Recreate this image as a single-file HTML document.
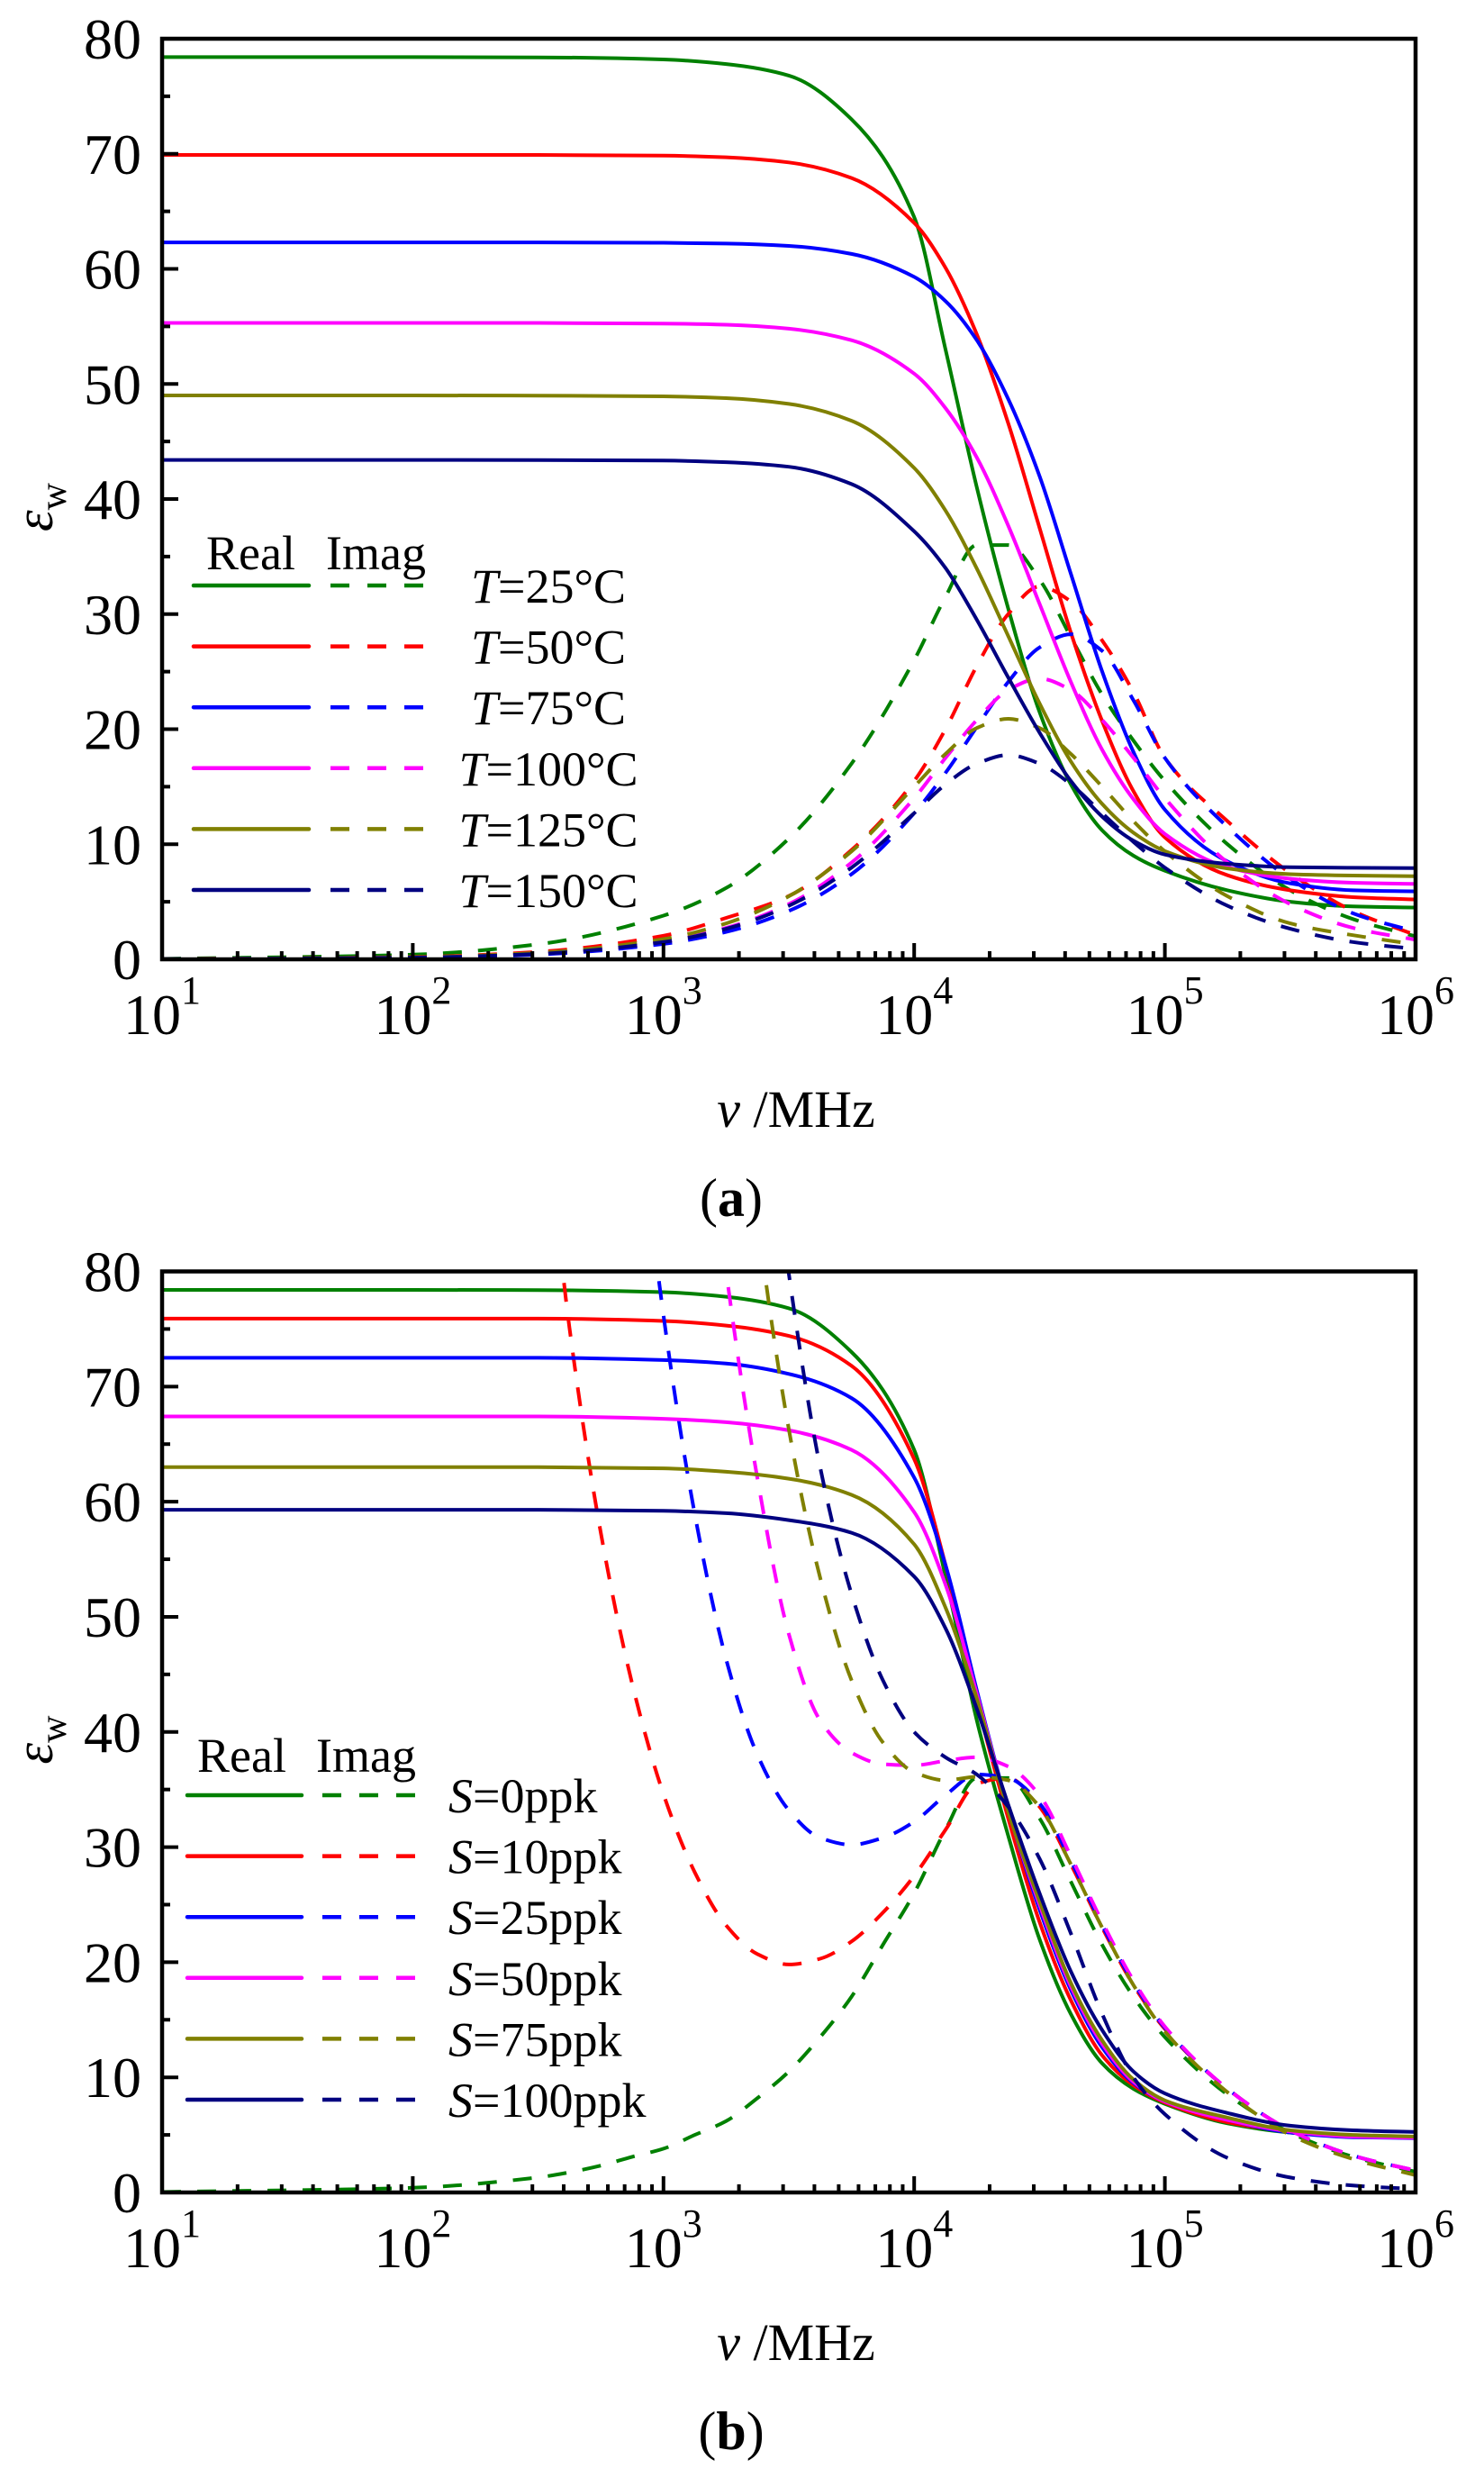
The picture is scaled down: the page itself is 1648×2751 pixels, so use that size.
<!DOCTYPE html>
<html><head><meta charset="utf-8"><style>
html,body{margin:0;padding:0;background:#fff;}
svg{display:block;font-family:"Liberation Serif","DejaVu Serif",serif;}
</style></head>
<body>
<svg id="fig" width="1648" height="2751" viewBox="0 0 1648 2751" xmlns="http://www.w3.org/2000/svg">
<defs>
<clipPath id="clipA"><rect x="180" y="43" width="1392" height="1022"/></clipPath>
<clipPath id="clipB"><rect x="180" y="1411.5" width="1392" height="1022.5"/></clipPath>
</defs>
<g id="panelA"></g>
<g id="panelB"></g>
</svg>
<script>
// ---------- data (log10 frequency in MHz, permittivity values) ----------
const freqLogA = [1,2,2.5,3,3.25,3.5,3.75,4,4.125,4.25,4.375,4.5,4.625,4.75,4.875,5,5.25,5.5,5.75,6];
const freqLogBImag = [1,2,2.5,2.625,2.75,2.875,3,3.125,3.25,3.375,3.5,3.625,3.75,3.875,4,4.125,4.25,4.375,4.5,4.625,4.75,4.875,5,5.25,5.5,5.75,6];
const yTickValues = [0,10,20,30,40,50,60,70,80];
const xTickExponents = [1,2,3,4,5,6];

const realT25 = [78.4,78.4,78.38,78.2,77.8,76.8,73.0,64.5,53,41,30.5,21.5,15.2,11.2,9.0,7.7,6.0,5.0,4.6,4.5];
const imagT25 = [0.04,0.41,1.31,3.8,6.2,10.5,17,26,31.5,36,36,33,28,23,19,15.5,10,6,3.5,2.0];
const realT50 = [69.9,69.9,69.9,69.84,69.7,69.25,67.9,64.0,60.1,54.3,46.6,37.5,28.4,20.7,14.6,10.6,7.3,6.0,5.4,5.2];
const imagT50 = [0.02,0.2,0.65,2.05,3.6,5.5,9.5,15.5,20,25.5,30,32.4,31.1,27.7,23.2,17.5,12,7.5,4.2,2.1];
const realT75 = [62.3,62.3,62.3,62.27,62.2,62.0,61.3,59.3,57.2,53.8,48.7,42.0,33.5,25,18,13,8.5,6.6,6.0,5.9];
const imagT75 = [0.013,0.13,0.42,1.34,2.38,4.2,7.4,12.7,16.2,20.2,24.1,27.1,28.25,26.8,22.5,17.5,11.5,7.0,4.0,2.4];
const realT100 = [55.3,55.3,55.3,55.25,55.15,54.8,53.8,50.9,47.9,43.6,37.7,30.9,24.1,18.2,13.9,10.9,8.0,7.0,6.65,6.55];
const imagT100 = [0.015,0.15,0.49,1.54,2.73,4.8,8.4,14.0,17.5,20.8,23.4,24.4,23.4,20.8,17.5,14.0,8.4,4.8,2.73,1.7];
const realT125 = [49.0,49.0,48.99,48.92,48.77,48.27,46.8,42.7,39.0,33.95,28.1,22.25,17.2,13.5,11.0,9.4,7.9,7.4,7.28,7.22];
const imagT125 = [0.018,0.18,0.56,1.76,3.12,5.48,9.38,15.0,17.85,20.1,20.9,20.1,17.85,15.0,12.0,9.38,5.48,3.12,2.1,1.3];
const realT150 = [43.4,43.4,43.39,43.34,43.2,42.8,41.3,37.2,34,29.5,24.5,19.7,15.5,12.4,10.3,9.1,8.3,8.0,7.95,7.92];
const imagT150 = [0.015,0.15,0.47,1.5,2.65,4.65,7.97,12.7,15.2,17.0,17.75,17.0,15.2,12.7,10.2,7.97,4.65,2.65,1.5,0.9];

const realS0 = [78.4,78.4,78.38,78.2,77.8,76.8,73.0,64.5,53.5,41,31,22,15.5,11.2,9.0,7.7,6.0,5.2,4.85,4.75];
const realS10 = [75.9,75.9,75.9,75.7,75.3,74.4,71.8,63.7,54.5,42.7,32.5,23.5,16.7,11.9,9.3,7.8,6.1,5.3,4.85,4.75];
const realS25 = [72.5,72.5,72.5,72.3,72.0,71.1,69.0,62.1,54.5,43.6,33.3,24.6,17.6,12.6,9.5,7.9,6.3,5.2,4.8,4.72];
const realS50 = [67.4,67.4,67.4,67.2,66.9,66.2,64.5,59.1,52.8,43.3,33.2,25.0,17.9,12.9,9.6,7.9,6.3,5.3,4.85,4.75];
const realS75 = [63.0,63.0,63.0,62.9,62.6,62.0,60.6,56.3,50.8,42.9,33.1,25.3,18.2,13.2,9.8,8.0,6.5,5.4,5.0,4.85];
const realS100 = [59.3,59.3,59.3,59.2,59.0,58.4,57.3,53.5,49.0,42.0,33.7,26.0,19.2,14.1,10.5,8.6,6.9,5.8,5.4,5.25];

const imagS0 = [0.04,0.41,1.31,1.75,2.33,3.1,3.8,5.0,6.2,8.2,10.5,13.5,17,21.5,26,31.5,36,36,32.5,27,21.5,17,13.5,8.5,5.2,3.1,1.8];
const imagS10 = [150,150,99,75.1,57.3,44.2,34.6,27.8,23.2,20.7,19.8,20.3,21.8,24.3,27.5,31.5,35.5,36,33.5,28.5,23,18,14.2,9.0,5.4,3.2,1.9];
const imagS25 = [150,150,150,150,132,99.9,76.2,58.9,46.3,38,33.2,30.8,30.2,30.8,32.2,34.5,36.3,36,33.8,28.8,23.2,18.2,14.3,9.0,5.4,3.2,1.9];
const imagS50 = [150,150,150,150,150,150,137,104,80,62,48.5,41,38.2,37.2,37.1,37.5,37.8,37,34.5,29.2,23.5,18.4,14.4,9.0,5.4,3.2,1.9];
const imagS75 = [150,150,150,150,150,150,150,145,110,84.6,66.3,53.4,44.5,39.1,36.5,35.8,36.1,35.8,33.5,28.5,23,18,14,8.7,5.0,2.9,1.5];
const imagS100 = [150,150,150,150,150,150,150,150,128,102,79.8,63,52,44.5,40,37.8,36.3,33.5,29,22.5,15.5,10.0,6.8,3.0,1.3,0.6,0.3];

const labelsA = ["25","50","75","100","125","150"];
const labelsB = ["0","10","25","50","75","100"];
const colors = ["#008000","#ff0000","#0000ff","#ff00ff","#808000","#000080"];

const NS = "http://www.w3.org/2000/svg";
function mk(tag, attrs, parent){
  const e = document.createElementNS(NS, tag);
  for (const k in attrs) e.setAttribute(k, attrs[k]);
  parent.appendChild(e);
  return e;
}
const X0 = 180, X1 = 1572;
function xScale(lf){ return X0 + (lf - 1) * (X1 - X0) / 5; }
function makeY(top, bottom){ return function(v){ return bottom - v * (bottom - top) / 80; }; }

function monoPath(xs, ys){
  const n = xs.length, h = [], m = [], t = new Array(n);
  for (let i = 0; i < n - 1; i++){ h[i] = xs[i+1]-xs[i]; m[i] = (ys[i+1]-ys[i])/h[i]; }
  t[0] = m[0]; t[n-1] = m[n-2];
  for (let i = 1; i < n - 1; i++){
    if (m[i-1]*m[i] <= 0) t[i] = 0;
    else {
      const h0 = h[i-1], h1 = h[i];
      t[i] = 3*(h0+h1) / ((2*h1+h0)/m[i-1] + (h1+2*h0)/m[i]);
    }
  }
  let d = "M" + xs[0].toFixed(1) + "," + ys[0].toFixed(1);
  for (let i = 0; i < n - 1; i++){
    const q = h[i]/3;
    d += " C" + (xs[i]+q).toFixed(1) + "," + (ys[i]+t[i]*q).toFixed(1) + " " +
         (xs[i+1]-q).toFixed(1) + "," + (ys[i+1]-t[i+1]*q).toFixed(1) + " " +
         xs[i+1].toFixed(1) + "," + ys[i+1].toFixed(1);
  }
  return d;
}

function drawPanel(g, cfg){
  const yS = makeY(cfg.top, cfg.bottom);
  const cg = mk("g", {"clip-path": "url(#" + cfg.clip + ")"}, g);
  
  
  cfg.series.forEach(function(s, i){
    const xr = cfg.realX.map(xScale), yr = s.real.map(yS);
    const pr = mk("path", {d: monoPath(xr, yr), fill: "none", stroke: colors[i], "stroke-width": 4}, cg);
    
    
    const xi = cfg.imagX.map(xScale), yi = s.imag.map(yS);
    const pi = mk("path", {d: monoPath(xi, yi), fill: "none", stroke: colors[i], "stroke-width": 4, "stroke-dasharray": "21 18"}, cg);
    
    
  });
  const fr = mk("rect", {x: X0, y: cfg.top, width: X1 - X0, height: cfg.bottom - cfg.top, fill: "none", stroke: "#000", "stroke-width": 4.5}, g);
  
  
  for (let v = 0; v <= 80; v += 5){
    const major = v % 10 === 0;
    const tk = mk("line", {x1: X0, x2: X0 + (major ? 18 : 9), y1: yS(v), y2: yS(v), stroke: "#000", "stroke-width": 4}, g);
    
    
  }
  yTickValues.forEach(function(v){
    const t = mk("text", {x: 157, y: yS(v) + 22, "text-anchor": "end", "font-size": 64}, g);
    t.textContent = String(v);
    
    
  });
  for (let d = 1; d <= 6; d++){
    const tk = mk("line", {x1: xScale(d), x2: xScale(d), y1: cfg.bottom, y2: cfg.bottom - 18, stroke: "#000", "stroke-width": 4}, g);
    
    
    if (d < 6){
      for (let k = 2; k <= 9; k++){
        const xm = xScale(d + Math.log10(k));
        const mt = mk("line", {x1: xm, x2: xm, y1: cfg.bottom, y2: cfg.bottom - 9, stroke: "#000", "stroke-width": 4}, g);
        
        
      }
    }
  }
  xTickExponents.forEach(function(e){
    const t = mk("text", {x: xScale(e), y: cfg.bottom + 83, "text-anchor": "middle", "font-size": 64}, g);
    
    
    const a = mk("tspan", {}, t); a.textContent = "10";
    const b = mk("tspan", {dy: -34, "font-size": 44}, t); b.textContent = String(e);
  });
  const xt = mk("text", {x: 884, y: cfg.bottom + 186, "text-anchor": "middle", "font-size": 58}, g);
  
  
  const v1 = mk("tspan", {"font-style": "italic"}, xt); v1.textContent = "v";
  const v2 = mk("tspan", {}, xt); v2.textContent = " /MHz";
  const yt = mk("text", {transform: "translate(58," + (cfg.top + 520) + ") rotate(-90)", "text-anchor": "middle", "font-size": 60}, g);
  
  
  const e1 = mk("tspan", {"font-style": "italic"}, yt); e1.textContent = "ε";
  const e2 = mk("tspan", {dy: 15, "font-size": 42}, yt); e2.textContent = "w";
  const pl = mk("text", {x: 812, y: cfg.bottom + 285, "text-anchor": "middle", "font-size": 60}, g);
  
  
  const p1 = mk("tspan", {}, pl); p1.textContent = "(";
  const p2 = mk("tspan", {"font-weight": "bold"}, pl); p2.textContent = cfg.letter;
  const p3 = mk("tspan", {}, pl); p3.textContent = ")";
  const lg = mk("g", {}, g);
  
  
  const h1 = mk("text", {x: cfg.leg.realTx, y: cfg.leg.headY, "font-size": 54}, lg);
  h1.textContent = "Real";
  
  
  const h2 = mk("text", {x: cfg.leg.imagTx, y: cfg.leg.headY, "font-size": 54}, lg);
  h2.textContent = "Imag";
  
  
  cfg.series.forEach(function(s, i){
    const y = cfg.leg.y0 + i * cfg.leg.dy;
    const en = mk("g", {}, lg);
    
    
    mk("line", {x1: cfg.leg.r0, x2: cfg.leg.r1, y1: y, y2: y, stroke: colors[i], "stroke-width": 4.5, "stroke-linecap": "round"}, en);
    mk("line", {x1: cfg.leg.d0, x2: cfg.leg.d1, y1: y, y2: y, stroke: colors[i], "stroke-width": 4.5, "stroke-dasharray": "21 20"}, en);
    const tx = mk("text", {x: cfg.leg.tx, y: y + 19, "font-size": 54, "text-anchor": cfg.leg.anchor}, en);
    const q1 = mk("tspan", {"font-style": "italic"}, tx); q1.textContent = cfg.sym;
    const q2 = mk("tspan", {}, tx); q2.textContent = "=" + s.label + cfg.unit;
  });
}

const seriesA = [
  {key: "t25", label: labelsA[0], real: realT25, imag: imagT25},
  {key: "t50", label: labelsA[1], real: realT50, imag: imagT50},
  {key: "t75", label: labelsA[2], real: realT75, imag: imagT75},
  {key: "t100", label: labelsA[3], real: realT100, imag: imagT100},
  {key: "t125", label: labelsA[4], real: realT125, imag: imagT125},
  {key: "t150", label: labelsA[5], real: realT150, imag: imagT150}
];
const seriesB = [
  {key: "s0", label: labelsB[0], real: realS0, imag: imagS0},
  {key: "s10", label: labelsB[1], real: realS10, imag: imagS10},
  {key: "s25", label: labelsB[2], real: realS25, imag: imagS25},
  {key: "s50", label: labelsB[3], real: realS50, imag: imagS50},
  {key: "s75", label: labelsB[4], real: realS75, imag: imagS75},
  {key: "s100", label: labelsB[5], real: realS100, imag: imagS100}
];

drawPanel(document.getElementById("panelA"), {
  top: 43, bottom: 1065, clip: "clipA", letter: "a", sym: "T", unit: "°C",
  realX: freqLogA, imagX: freqLogA, series: seriesA,
  leg: {headY: 632, realTx: 229, imagTx: 362, y0: 650, dy: 67.6, r0: 215, r1: 343, d0: 367, d1: 472, tx: 609, anchor: "middle"}
});
drawPanel(document.getElementById("panelB"), {
  top: 1411.5, bottom: 2434, clip: "clipB", letter: "b", sym: "S", unit: "ppk",
  realX: freqLogA, imagX: freqLogBImag, series: seriesB,
  leg: {headY: 1967, realTx: 219, imagTx: 351, y0: 1993, dy: 67.6, r0: 208, r1: 335, d0: 358, d1: 462, tx: 498, anchor: "start"}
});
</script>
</body></html>
